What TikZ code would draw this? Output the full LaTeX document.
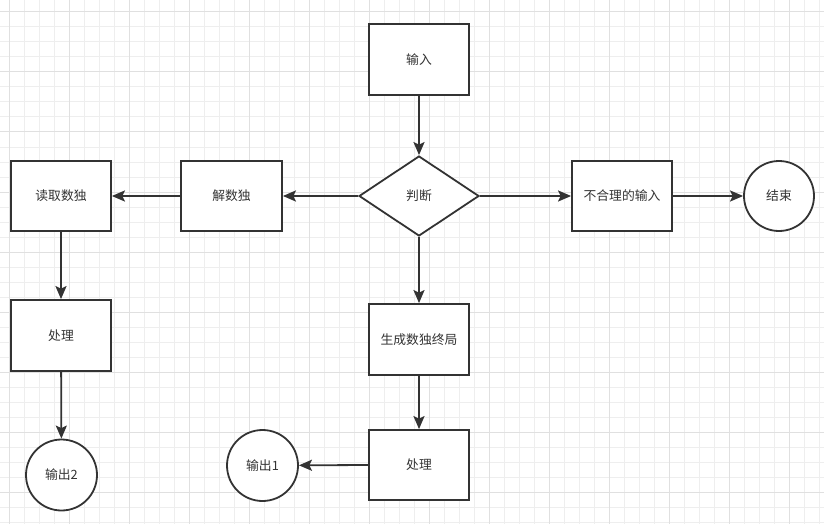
\documentclass[tikz,border=0pt]{standalone}
\usepackage{fontspec}
\newfontfamily\cjk{Noto Sans CJK SC}
\usetikzlibrary{shapes.geometric,arrows.meta}
\definecolor{ink}{HTML}{333333}
\definecolor{gridminor}{HTML}{EEEEEE}
\definecolor{gridmajor}{HTML}{E0E0E0}
\tikzset{
  lbl/.style={font=\cjk\fontsize{12.8}{15}\selectfont, text=ink},
  box/.style={draw=ink, line width=1.8pt, fill=white, minimum width=#1, minimum height=71pt, inner sep=0pt, lbl},
  box/.default=100pt,
  decide/.style={draw=ink, line width=1.8pt, fill=white, diamond, aspect=1.5, minimum width=120pt, minimum height=80pt, inner sep=0pt, lbl},
  term/.style={draw=ink, line width=1.8pt, fill=white, circle, minimum size=71pt, inner sep=0pt, lbl},
  flow/.style={draw=ink, line width=1.8pt, -{Stealth[length=13pt,width=11pt,inset=2.5pt]}},
}
\begin{document}
\begin{tikzpicture}[x=1pt,y=-1pt]
\useasboundingbox (0,0) rectangle (824,524);
\fill[white] (0,0) rectangle (824,524);
% grid
\foreach \gx in {9,24,...,824} \draw[gridminor, line width=1pt] (\gx,0) -- (\gx,524);
\foreach \gy in {12,27,...,524} \draw[gridminor, line width=1pt] (0,\gy) -- (824,\gy);
\foreach \gx in {9,69,...,824} \draw[gridmajor, line width=1pt] (\gx,0) -- (\gx,524);
\foreach \gy in {12,72,...,524} \draw[gridmajor, line width=1pt] (0,\gy) -- (824,\gy);
% nodes
\node[box] (in) at (419,59.5) {输入};
\node[decide] (judge) at (419,196) {判断};
\node[box=101pt, minimum height=70pt] (solve) at (231.5,196) {解数独};
\node[box, minimum height=70pt] (read) at (61,196) {读取数独};
\node[box] (procL) at (61,335.5) {处理};
\node[term] (out2) at (61.5,475) {输出2};
\node[box, minimum height=70pt] (bad) at (622,196) {不合理的输入};
\node[term, minimum size=70pt] (end) at (779,196) {结束};
\node[box] (gen) at (419,339.5) {生成数独终局};
\node[box, minimum height=70pt] (procB) at (419,465) {处理};
\node[term] (out1) at (262.5,465.5) {输出1};
% connectors
\draw[flow] (in) -- (judge);
\draw[flow] (judge) -- (solve);
\draw[flow] (solve) -- (read);
\draw[flow] (read) -- (procL);
\draw[flow] (procL) -- (out2);
\draw[flow] (judge) -- (bad);
\draw[flow] (bad) -- (end);
\draw[flow] (judge) -- (gen);
\draw[flow] (gen) -- (procB);
\draw[flow] (procB.west) -- (out1);
\end{tikzpicture}
\end{document}
